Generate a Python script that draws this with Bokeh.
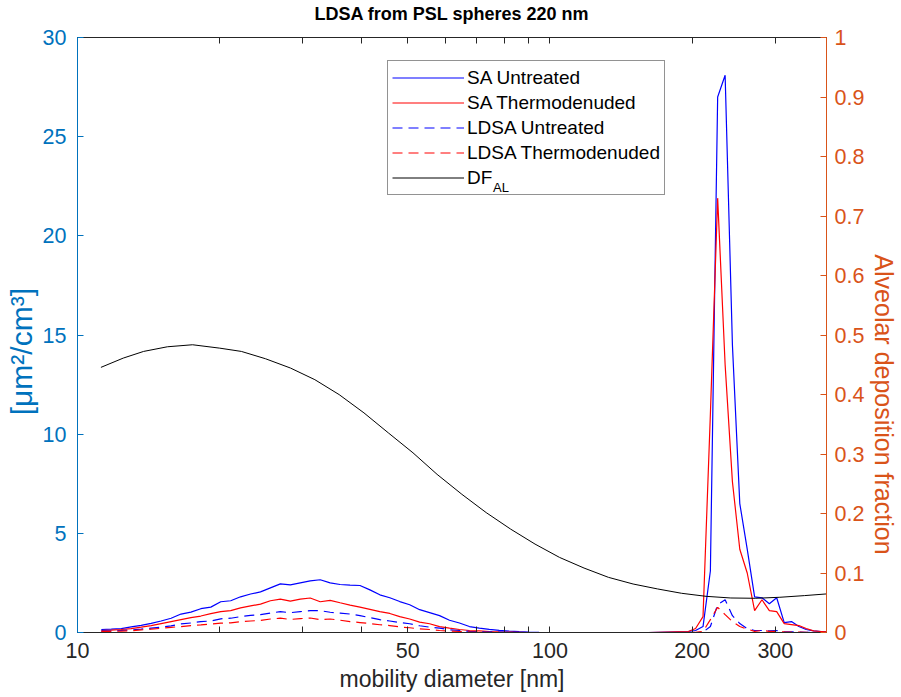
from bokeh.plotting import figure
from bokeh.models import (Range1d, LinearAxis, LogAxis, FixedTicker, Legend, LegendItem)
from bokeh.embed import file_html
from bokeh.resources import INLINE

# ---------------- data ----------------
diameter = [11.23, 11.79, 12.38, 12.99, 13.64, 14.32, 15.03, 15.78, 16.56, 17.38,
            18.24, 19.15, 20.10, 21.10, 22.14, 23.25, 24.40, 25.61, 26.88, 28.22,
            29.62, 31.09, 32.64, 34.26, 35.96, 37.75, 39.62, 41.59, 43.65, 45.82,
            48.10, 50.49, 53.00, 55.63, 58.40, 61.30, 64.34, 67.54, 70.89, 74.42,
            78.11, 81.99, 86.07, 90.34, 94.83, 104.5, 126.8, 161.6,
            196.3, 203.4, 210.9, 218.6, 226.5, 234.9, 243.4, 252.3, 261.6, 271.2,
            281.1, 291.4, 302.0, 313.3, 324.6, 336.5, 348.7, 361.5, 374.9, 384.6]

sa_untreated = [0.15, 0.17, 0.2, 0.28, 0.36, 0.46, 0.58, 0.72, 0.93, 1.03,
                1.2, 1.28, 1.55, 1.6, 1.8, 1.94, 2.05, 2.25, 2.45, 2.4,
                2.5, 2.6, 2.66, 2.5, 2.42, 2.39, 2.37, 2.15, 1.9, 1.75,
                1.56, 1.4, 1.15, 1.0, 0.85, 0.62, 0.48, 0.3, 0.22, 0.16,
                0.11, 0.07, 0.04, 0.02, 0.01, 0.0, 0.0, 0.0,
                0.05, 0.1, 0.3, 3.1, 27.0, 28.1, 14.5, 6.5, 4.2, 1.8,
                1.75, 1.45, 1.75, 0.5, 0.55, 0.3, 0.15, 0.08, 0.05, 0.03]

sa_thermo = [0.1, 0.12, 0.15, 0.2, 0.27, 0.35, 0.45, 0.55, 0.65, 0.75,
             0.83, 0.95, 1.05, 1.1, 1.24, 1.34, 1.43, 1.6, 1.68, 1.58,
             1.68, 1.74, 1.55, 1.62, 1.5, 1.38, 1.28, 1.17, 1.05, 0.96,
             0.8, 0.68, 0.52, 0.44, 0.3, 0.22, 0.15, 0.1, 0.08, 0.05,
             0.03, 0.02, 0.01, 0.0, 0.0, 0.0, 0.0, 0.0,
             0.05, 0.2, 0.8, 11.0, 21.9, 13.5, 7.6, 4.2, 3.0, 1.1,
             1.65, 1.1, 1.05, 0.45, 0.4, 0.35, 0.2, 0.08, 0.05, 0.03]

ldsa_untreated = [0.07, 0.08, 0.1, 0.13, 0.17, 0.22, 0.27, 0.33, 0.43, 0.48,
                  0.55, 0.58, 0.69, 0.72, 0.8, 0.86, 0.9, 0.98, 1.05, 1.0,
                  1.05, 1.1, 1.1, 1.02, 0.98, 0.93, 0.85, 0.75, 0.65, 0.58,
                  0.5, 0.44, 0.34, 0.27, 0.22, 0.14, 0.1, 0.06, 0.04, 0.03,
                  0.02, 0.01, 0.0, 0.0, 0.0, 0.0, 0.0, 0.0,
                  0.0, 0.0, 0.02, 0.3, 1.4, 1.65, 0.85, 0.45, 0.2, 0.1,
                  0.1, 0.08, 0.1, 0.03, 0.03, 0.02, 0.01, 0.0, 0.0, 0.0]

ldsa_thermo = [0.05, 0.06, 0.07, 0.09, 0.13, 0.17, 0.21, 0.26, 0.3, 0.35,
               0.38, 0.43, 0.47, 0.49, 0.55, 0.58, 0.61, 0.68, 0.72, 0.66,
               0.7, 0.73, 0.65, 0.68, 0.62, 0.55, 0.5, 0.45, 0.39, 0.35,
               0.28, 0.24, 0.18, 0.15, 0.1, 0.07, 0.05, 0.03, 0.02, 0.01,
               0.0, 0.0, 0.0, 0.0, 0.0, 0.0, 0.0, 0.0,
               0.0, 0.01, 0.05, 0.65, 1.27, 0.9, 0.55, 0.3, 0.17, 0.06,
               0.1, 0.06, 0.06, 0.03, 0.02, 0.02, 0.01, 0.0, 0.0, 0.0]

df_diameter = [11.21, 12.5, 13.8, 15.5, 17.52, 20.0, 22.23, 25.0, 28.23, 31.8,
               35.8, 40.4, 45.5, 51.3, 57.7, 65.1, 73.3, 82.6, 93.0, 104.8,
               118.1, 133.0, 150.0, 169.0, 190.0, 214.0, 241.5, 272.0, 306.7, 345.6, 384.6]
df_al = [0.4456, 0.4612, 0.4724, 0.4802, 0.4836, 0.4779, 0.4724, 0.4601, 0.4445, 0.4249,
         0.3998, 0.3691, 0.3355, 0.302, 0.2658, 0.2323, 0.2015, 0.1737, 0.1486, 0.1262,
         0.1083, 0.0927, 0.0815, 0.0732, 0.0659, 0.0608, 0.058, 0.0575, 0.0592, 0.062, 0.0648]

x_tick_major = [10, 50, 100, 200, 300]
x_tick_minor = [20, 30, 40, 60, 70, 80, 90]
left_ticks = [0, 5, 10, 15, 20, 25, 30]
right_ticks = [0, 0.1, 0.2, 0.3, 0.4, 0.5, 0.6, 0.7, 0.8, 0.9, 1]
right_labels = ["0", "0.1", "0.2", "0.3", "0.4", "0.5", "0.6", "0.7", "0.8", "0.9", "1"]

series_names = ["SA Untreated", "SA Thermodenuded", "LDSA Untreated", "LDSA Thermodenuded", "DF"]
title_text = "LDSA from PSL spheres 220 nm"

# ---------------- styling ----------------
FONT = "Liberation Sans"
BLUE_AX = "#0072BD"
ORANGE_AX = "#D95319"
DARK = "#262626"
TICK_FS = "21.5px"
NBSP = "\u00a0"

p = figure(width=901, height=697, x_axis_type="log",
           x_range=Range1d(10, 385), y_range=Range1d(0, 30),
           output_backend="svg", toolbar_location=None,
           min_border_left=77, min_border_right=71, min_border_top=35, min_border_bottom=65)
p.extra_y_ranges = {"df": Range1d(0, 1)}
p.grid.visible = False
p.outline_line_color = DARK
p.background_fill_color = "white"
p.border_fill_color = "white"

xticker = FixedTicker(ticks=x_tick_major, minor_ticks=x_tick_minor)

xa = p.xaxis[0]
xa.ticker = xticker
xa.axis_label = "mobility diameter [nm]"
xa.axis_line_color = DARK
xa.major_tick_line_color = DARK
xa.minor_tick_line_color = DARK
xa.major_tick_in = 6
xa.major_tick_out = 0
xa.minor_tick_in = 6
xa.minor_tick_out = 0
xa.major_label_text_font = FONT
xa.major_label_text_font_size = TICK_FS
xa.major_label_text_color = DARK
xa.axis_label_text_font = FONT
xa.axis_label_text_font_size = "23px"
xa.axis_label_text_font_style = "normal"
xa.axis_label_text_color = DARK
xa.major_label_standoff = 10
xa.axis_label_standoff = 5

# top axis: box edge with ticks, carrying the chart title
top = LogAxis(ticker=xticker, major_label_text_font_size="1px",
              major_label_overrides={t: "" for t in x_tick_major},
              axis_line_color=DARK, major_tick_line_color=DARK, minor_tick_line_color=DARK,
              major_tick_in=6, major_tick_out=0, minor_tick_in=6, minor_tick_out=0,
              major_label_standoff=0,
              axis_label=title_text, axis_label_text_font=FONT,
              axis_label_text_font_size="18px", axis_label_text_font_style="bold",
              axis_label_text_color="#000000", axis_label_standoff=14)
p.add_layout(top, "above")

ya = p.yaxis[0]
ya.ticker = FixedTicker(ticks=left_ticks)
ya.axis_label = "[μm²/cm³]" + NBSP * 4
ya.axis_line_color = BLUE_AX
ya.major_tick_line_color = BLUE_AX
ya.major_tick_in = 6
ya.major_tick_out = 0
ya.minor_tick_line_color = None
ya.major_label_text_color = BLUE_AX
ya.major_label_text_font = FONT
ya.major_label_text_font_size = TICK_FS
ya.axis_label_text_color = BLUE_AX
ya.axis_label_text_font = FONT
ya.axis_label_text_font_size = "30px"
ya.axis_label_text_font_style = "normal"
ya.major_label_standoff = 11
ya.axis_label_standoff = 2

ra = LinearAxis(y_range_name="df", ticker=FixedTicker(ticks=right_ticks),
                major_label_overrides={t: s for t, s in zip(right_ticks, right_labels)},
                axis_label=NBSP * 20 + "Alveolar deposition fraction")
ra.axis_line_color = ORANGE_AX
ra.major_tick_line_color = ORANGE_AX
ra.major_tick_in = 6
ra.major_tick_out = 0
ra.minor_tick_line_color = None
ra.major_label_text_color = ORANGE_AX
ra.major_label_text_font = FONT
ra.major_label_text_font_size = TICK_FS
ra.axis_label_text_color = ORANGE_AX
ra.axis_label_text_font = FONT
ra.axis_label_text_font_size = "25px"
ra.axis_label_text_font_style = "normal"
ra.major_label_standoff = 8
ra.axis_label_standoff = 3
p.add_layout(ra, "right")

# ---------------- lines ----------------
LW = 1.2
r1 = p.line(diameter, sa_untreated, line_color="#0000FF", line_width=LW)
r2 = p.line(diameter, sa_thermo, line_color="#FF0000", line_width=LW)
r3 = p.line(diameter, ldsa_untreated, line_color="#0000FF", line_width=LW, line_dash="10 6")
r4 = p.line(diameter, ldsa_thermo, line_color="#FF0000", line_width=LW, line_dash="10 6")
r5 = p.line(df_diameter, df_al, line_color="#000000", line_width=1.0, y_range_name="df")

legend = Legend(items=[LegendItem(label=n, renderers=[r]) for n, r in zip(series_names, [r1, r2, r3, r4, r5])],
                location=(310, 437), orientation="vertical")
legend.border_line_color = DARK
legend.border_line_width = 1
legend.background_fill_color = "white"
legend.background_fill_alpha = 1.0
legend.label_text_font = FONT
legend.label_text_font_size = "19px"
legend.label_text_color = "#000000"
legend.glyph_width = 72
legend.glyph_height = 25
legend.label_height = 25
legend.spacing = 0
legend.padding = 4
legend.margin = 0
legend.label_standoff = 3
p.add_layout(legend)

# subscript "AL" of DF_AL, as a glyph-less legend entry drawn over the legend
sub_legend = Legend(items=[LegendItem(label="AL", renderers=[r5])],
                    location=(416, 437), orientation="vertical")
sub_legend.glyph_width = 0
sub_legend.glyph_height = 14
sub_legend.label_height = 14
sub_legend.label_standoff = 0
sub_legend.padding = 0
sub_legend.margin = 0
sub_legend.spacing = 0
sub_legend.border_line_alpha = 0
sub_legend.background_fill_alpha = 0
sub_legend.label_text_font = FONT
sub_legend.label_text_font_size = "13px"
sub_legend.label_text_color = "#000000"
p.add_layout(sub_legend)

open("out.html", "w").write(file_html(p, INLINE))
